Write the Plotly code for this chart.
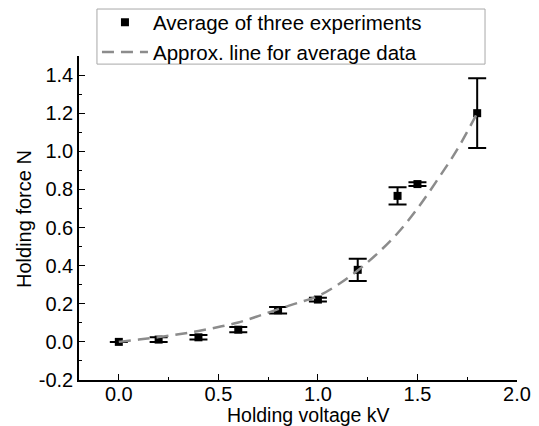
import plotly.graph_objects as go

# Measured data (average of three experiments)
voltage_kv = [0.0, 0.2, 0.4, 0.6, 0.8, 1.0, 1.2, 1.4, 1.5, 1.8]
force_n = [0.0, 0.012, 0.024, 0.064, 0.166, 0.222, 0.378, 0.766, 0.828, 1.2]
force_err = [0.0, 0.012, 0.012, 0.014, 0.017, 0.01, 0.058, 0.045, 0.01, 0.183]

# Approximation line
approx_x = [0.0, 0.1, 0.2, 0.3, 0.4, 0.5, 0.6, 0.7, 0.8, 0.9, 1.0, 1.1, 1.2, 1.3, 1.4, 1.5, 1.6, 1.7, 1.8]
approx_y = [0.0, 0.012, 0.025, 0.04, 0.057, 0.078, 0.102, 0.135, 0.172, 0.205, 0.24, 0.30, 0.375, 0.465, 0.57, 0.70, 0.85, 1.01, 1.2]

x_tickvals = [0.0, 0.5, 1.0, 1.5, 2.0]
x_ticktext = ["0.0", "0.5", "1.0", "1.5", "2.0"]
y_tickvals = [-0.2, 0.0, 0.2, 0.4, 0.6, 0.8, 1.0, 1.2, 1.4]
y_ticktext = ["-0.2", "0.0", "0.2", "0.4", "0.6", "0.8", "1.0", "1.2", "1.4"]

x_title = "Holding voltage kV"
y_title = "Holding force N"

FONT = "Liberation Sans, Arial, sans-serif"
FS = 20

fig = go.Figure()
fig.add_trace(go.Scatter(
    x=voltage_kv, y=force_n, mode="markers",
    name="Average of three experiments",
    marker=dict(symbol="square", size=8, color="black"),
    error_y=dict(type="data", array=force_err, visible=True,
                 color="black", thickness=2, width=9),
))
fig.add_trace(go.Scatter(
    x=approx_x, y=approx_y, mode="lines",
    name="Approx. line for average data",
    line=dict(color="#8c8c8c", width=2.5, dash="12px,7px", shape="spline"),
))

axis_common = dict(
    showline=True, linecolor="black", linewidth=1.5,
    ticks="inside", ticklen=6, tickwidth=1.2, tickcolor="black",
    showgrid=False, zeroline=False, mirror=False, automargin=False,
    tickfont=dict(family=FONT, size=FS, color="black"),
)

# legend frame (wider than the text, as in the original)
fig.add_shape(type="rect", xref="paper", yref="paper",
              x0=0.041, x1=0.927, y0=0.975, y1=1.145,
              line=dict(color="#a8a8a8", width=1), fillcolor="white", layer="above")

# axis titles
fig.add_annotation(text=x_title, xref="paper", yref="paper", x=0.523, y=-0.108,
                   xanchor="center", yanchor="middle", showarrow=False,
                   font=dict(family=FONT, size=19.5, color="black"))
fig.add_annotation(text=y_title, xref="paper", yref="paper", x=-0.1256, y=0.497,
                   xanchor="center", yanchor="middle", showarrow=False, textangle=-90,
                   font=dict(family=FONT, size=FS, color="black"))

fig.update_layout(
    width=539, height=426,
    margin=dict(l=79, r=22, t=56, b=46, autoexpand=False),
    paper_bgcolor="white", plot_bgcolor="white",
    font=dict(family=FONT, size=FS, color="black"),
    xaxis=dict(range=[-0.2, 2.0], tickvals=x_tickvals, ticktext=x_ticktext,
               minor=dict(ticks="inside", ticklen=3, dtick=0.25, tick0=0, tickcolor="black"),
               ticklabelstandoff=-5,
               **axis_common),
    yaxis=dict(range=[-0.2, 1.5], tickvals=y_tickvals, ticktext=y_ticktext,
               minor=dict(ticks="inside", ticklen=3, dtick=0.1, tick0=0, tickcolor="black"),
               **axis_common),
    legend=dict(x=0.041, y=1.165, xanchor="left", yanchor="top",
                bgcolor="rgba(0,0,0,0)", borderwidth=0,
                font=dict(family=FONT, size=20.5, color="black"),
                itemwidth=46, tracegroupgap=0),
    showlegend=True,
)

fig.write_html("out.html")
